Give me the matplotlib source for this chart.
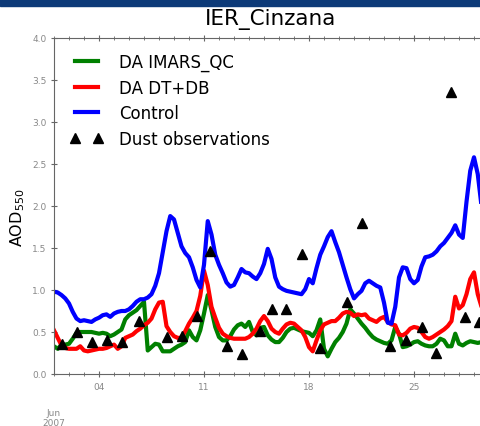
"""
AOD at IER_Cinzana, June 2007: two DA runs vs. control, with dust observations.
"""

import matplotlib

matplotlib.use("Agg")
import matplotlib.dates as mdates
import matplotlib.pyplot as plt
import pandas as pd
from matplotlib.patches import Rectangle

# 6-hourly model output starting 2007-06-01 00:00
times = pd.date_range("2007-06-01", periods=116, freq="6h")

aod_imars_qc = [
    0.33, 0.30, 0.35, 0.35, 0.36, 0.42, 0.49, 0.50,
    0.50, 0.50, 0.50, 0.49, 0.48, 0.49, 0.48, 0.45,
    0.47, 0.50, 0.53, 0.65, 0.70, 0.73, 0.76, 0.81,
    0.86, 0.28, 0.32, 0.36, 0.35, 0.27, 0.27, 0.27,
    0.30, 0.33, 0.35, 0.38, 0.52, 0.44, 0.40, 0.52,
    0.72, 0.94, 0.76, 0.56, 0.44, 0.40, 0.40, 0.45,
    0.53, 0.58, 0.60, 0.56, 0.62, 0.50, 0.46, 0.55,
    0.56, 0.46, 0.41, 0.38, 0.38, 0.43, 0.50, 0.54,
    0.55, 0.53, 0.51, 0.50, 0.49, 0.45, 0.52, 0.65,
    0.30, 0.21, 0.30, 0.38, 0.43, 0.50, 0.60, 0.77,
    0.72, 0.66, 0.60, 0.55, 0.49, 0.44, 0.41, 0.39,
    0.37, 0.36, 0.40, 0.56, 0.48, 0.32, 0.33, 0.35,
    0.38, 0.39, 0.36, 0.34, 0.33, 0.33, 0.36, 0.42,
    0.40, 0.33, 0.33, 0.48, 0.36, 0.34, 0.37, 0.39,
    0.38, 0.37, 0.38, 0.38,
]

aod_dt_db = [
    0.52, 0.43, 0.34, 0.31, 0.30, 0.30, 0.30, 0.33,
    0.28, 0.27, 0.28, 0.29, 0.30, 0.30, 0.31, 0.33,
    0.35, 0.30, 0.33, 0.43, 0.45, 0.47, 0.51, 0.54,
    0.58, 0.61, 0.66, 0.77, 0.85, 0.86, 0.57, 0.50,
    0.45, 0.43, 0.43, 0.51, 0.60, 0.67, 0.75, 0.93,
    1.23, 1.06, 0.80, 0.67, 0.55, 0.48, 0.45, 0.43,
    0.42, 0.42, 0.42, 0.42, 0.44, 0.48, 0.54, 0.63,
    0.69, 0.63, 0.54, 0.50, 0.48, 0.54, 0.59, 0.61,
    0.60, 0.56, 0.52, 0.44, 0.32, 0.27, 0.40, 0.52,
    0.59, 0.61, 0.63, 0.63, 0.67, 0.72, 0.74, 0.73,
    0.69, 0.71, 0.70, 0.71, 0.66, 0.64, 0.62, 0.66,
    0.68, 0.62, 0.59, 0.58, 0.47, 0.46, 0.49, 0.54,
    0.56, 0.55, 0.50, 0.44, 0.42, 0.44, 0.47, 0.50,
    0.53, 0.57, 0.63, 0.92, 0.78, 0.82, 0.95, 1.13,
    1.21, 0.95, 0.80, 0.75,
]

aod_control = [
    0.98, 0.97, 0.94, 0.90, 0.84, 0.74, 0.66, 0.63,
    0.64, 0.63, 0.62, 0.65, 0.67, 0.70, 0.71, 0.68,
    0.72, 0.74, 0.75, 0.75, 0.77, 0.81, 0.86, 0.89,
    0.89, 0.91, 0.95, 1.05, 1.20, 1.45, 1.70, 1.88,
    1.84, 1.68, 1.52, 1.44, 1.39, 1.27, 1.12, 1.03,
    1.30, 1.82, 1.66, 1.42, 1.30, 1.20, 1.09, 1.04,
    1.06, 1.15, 1.25, 1.21, 1.20, 1.16, 1.13, 1.20,
    1.31, 1.49, 1.37, 1.15, 1.04, 1.01, 0.99, 0.98,
    0.97, 0.96, 0.95, 1.01, 1.13, 1.08, 1.26, 1.42,
    1.52, 1.63, 1.70, 1.57, 1.45, 1.30, 1.15, 1.01,
    0.90, 0.95, 0.99, 1.08, 1.11, 1.08, 1.05, 1.03,
    0.85, 0.61, 0.60, 0.80, 1.15, 1.27, 1.26, 1.13,
    1.08, 1.12, 1.28, 1.39, 1.40, 1.42, 1.46, 1.52,
    1.56, 1.62, 1.68, 1.77, 1.66, 1.62, 2.05, 2.42,
    2.58, 2.38, 2.00, 1.80,
]

obs_times = pd.to_datetime([
    "2007-06-01 13:00", "2007-06-02 13:00", "2007-06-03 13:00",
    "2007-06-04 13:00", "2007-06-05 13:00", "2007-06-06 16:00",
    "2007-06-08 13:00", "2007-06-09 13:00", "2007-06-10 13:00",
    "2007-06-11 10:00", "2007-06-12 13:00", "2007-06-13 13:00",
    "2007-06-14 17:00", "2007-06-15 13:00", "2007-06-16 11:00",
    "2007-06-17 13:00", "2007-06-18 17:30", "2007-06-20 13:00",
    "2007-06-21 13:00", "2007-06-23 10:00", "2007-06-24 11:00",
    "2007-06-25 13:00", "2007-06-26 11:00", "2007-06-27 11:00",
    "2007-06-28 10:00", "2007-06-29 08:00",
])
obs_aod = [
    0.36, 0.50, 0.38, 0.40, 0.38, 0.63, 0.44, 0.45, 0.69, 1.46,
    0.33, 0.24, 0.51, 0.77, 0.77, 1.43, 0.31, 0.86, 1.80, 0.33,
    0.40, 0.56, 0.25, 3.36, 0.68, 0.62,
]

y_ticks = [0.0, 0.5, 1.0, 1.5, 2.0, 2.5, 3.0, 3.5, 4.0]
x_tick_days = [4, 11, 18, 25]

W, H = 481, 427
fig = plt.figure(figsize=(W / 100, H / 100), dpi=100)

# dark strip at the top of the slide
fig.add_artist(Rectangle((0, 1 - 7 / H), 1, 7 / H, transform=fig.transFigure,
                         color="#0d3a78", zorder=0))

ax = fig.add_axes([54 / W, (H - 375) / H, 450 / W, 336 / H])
ax.plot(times, aod_imars_qc, color="#008000", lw=3, label="DA IMARS_QC")
ax.plot(times, aod_dt_db, color="red", lw=3, label="DA DT+DB")
ax.plot(times, aod_control, color="blue", lw=3, label="Control")
ax.plot(obs_times, obs_aod, "k^", ms=7, ls="none", label="Dust observations")

ax.set_xlim(pd.Timestamp("2007-06-01"), pd.Timestamp("2007-07-01"))
ax.set_ylim(0, 4)
ax.set_yticks(y_ticks)
ax.xaxis.set_major_locator(mdates.DayLocator(bymonthday=x_tick_days))
ax.xaxis.set_major_formatter(mdates.DateFormatter("%d"))
ax.xaxis.set_minor_locator(mdates.DayLocator())

for side in ["left", "bottom", "top", "right"]:
    ax.spines[side].set_color("#666666")
ax.tick_params(which="both", colors="#666666", labelcolor="#888888",
               labelsize=6.5, direction="inout", top=True)
ax.tick_params(which="major", length=4)
ax.tick_params(which="minor", length=3)

ax.text(pd.Timestamp("2007-06-01"), -0.1, "Jun\n2007", transform=ax.get_xaxis_transform(),
        ha="center", va="top", fontsize=6.5, color="#888888", linespacing=1.2)

fig.text(271 / W, 1 - 20 / H, "IER_Cinzana", ha="center", va="center", fontsize=15.5)
fig.text(18 / W, 1 - 218 / H, "AOD$_{550}$", rotation=90, ha="center", va="center",
         fontsize=11.5)

ax.legend(loc="upper left", bbox_to_anchor=(16 / 450, 1 - 15 / 336), frameon=False,
          fontsize=12, numpoints=2, handlelength=2.0, handletextpad=0.95,
          borderpad=0, borderaxespad=0, labelspacing=0.45)

fig.savefig("out.png", dpi=100)
